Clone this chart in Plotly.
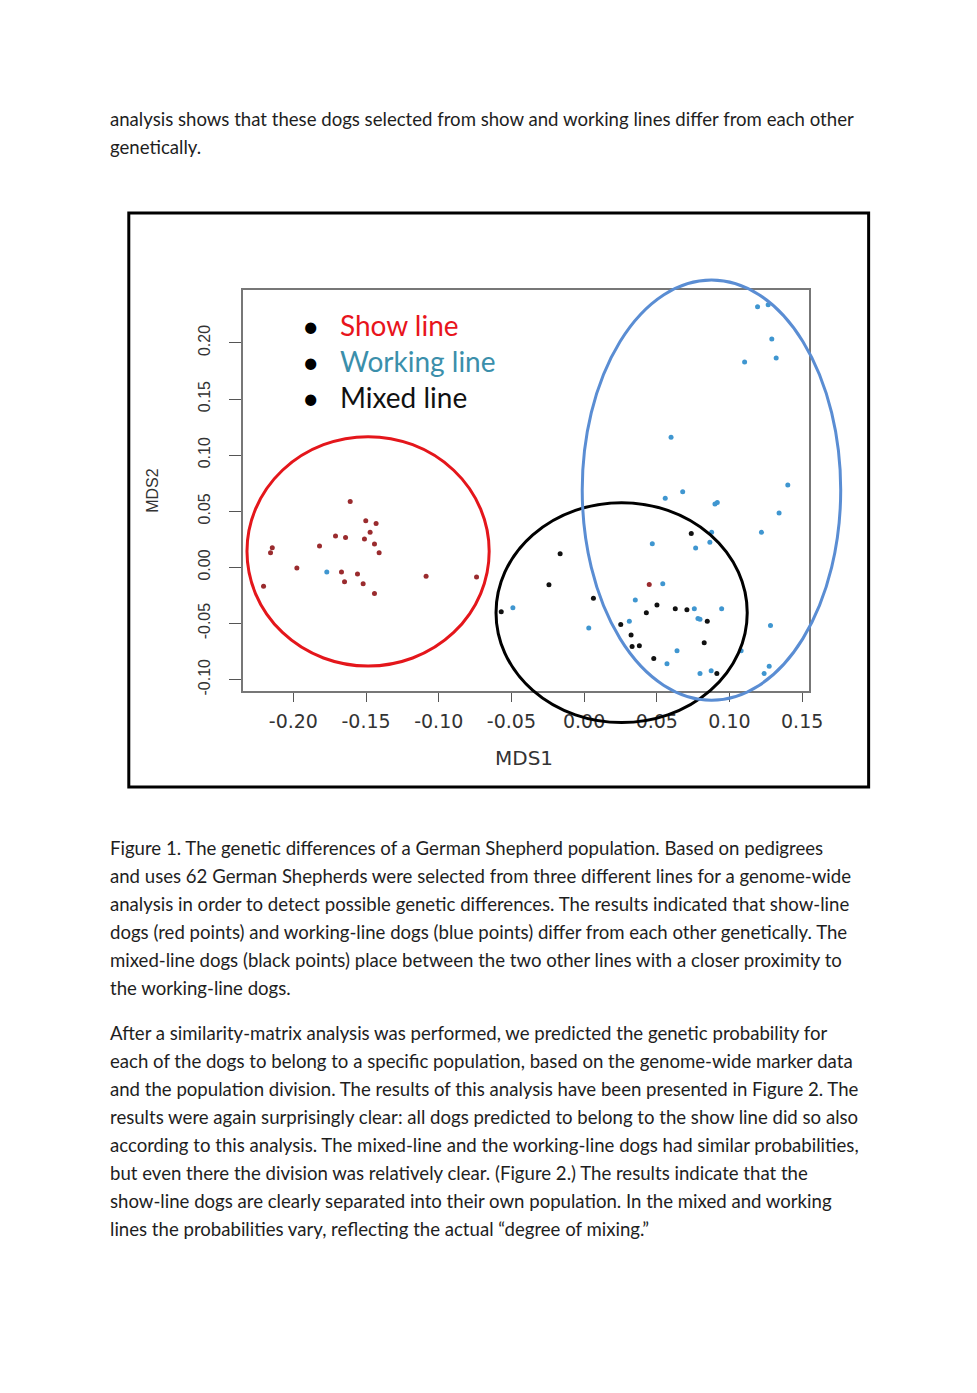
import plotly.graph_objects as go

# ---------------- data ----------------
show_x = [-0.1609, -0.1502, -0.1431, -0.1472, -0.1710, -0.1641, -0.1511, -0.1442, -0.1820,
          -0.2145, -0.2157, -0.1410, -0.1976, -0.1669, -0.1559, -0.1087, -0.0740, -0.1648,
          -0.1520, -0.2205, -0.1442, 0.0448]
show_y = [0.0588, 0.0415, 0.0392, 0.0312, 0.0279, 0.0267, 0.0252, 0.0208, 0.0190,
          0.0175, 0.0130, 0.0130, -0.0006, -0.0042, -0.0060, -0.0078, -0.0086, -0.0128,
          -0.0146, -0.0169, -0.0232, -0.0152]

work_x = [-0.1770, 0.1193, 0.1266, 0.1291, 0.1321, 0.1104, 0.0598, 0.1401, 0.0558, 0.0678,
          0.0900, 0.0916, 0.1341, 0.0877, 0.1220, 0.0865, 0.0469, 0.0767, 0.0541, 0.0352,
          -0.0490, 0.0758, 0.0946, 0.0783, 0.0797, 0.0311, 0.0032, 0.1282, 0.0639, 0.1080,
          0.0570, 0.0797, 0.0874, 0.1273, 0.1238]
work_y = [-0.0042, 0.2323, 0.2340, 0.2035, 0.1865, 0.1830, 0.1159, 0.0734, 0.0615, 0.0674,
          0.0564, 0.0579, 0.0484, 0.0312, 0.0312, 0.0225, 0.0210, 0.0172, -0.0146, -0.0291,
          -0.0360, -0.0369, -0.0369, -0.0455, -0.0463, -0.0481, -0.0541, -0.0517, -0.0743, -0.0743,
          -0.0859, -0.0945, -0.0922, -0.0880, -0.0945]

mixed_x = [0.0737, -0.0165, -0.0242, -0.0570, 0.0064, 0.0501, 0.0428, 0.0627, 0.0707,
           0.0847, 0.0252, 0.0323, 0.0330, 0.0380, 0.0826, 0.0479, 0.0913]
mixed_y = [0.0303, 0.0121, -0.0155, -0.0396, -0.0274, -0.0336, -0.0405, -0.0369, -0.0378,
           -0.0481, -0.0508, -0.0603, -0.0704, -0.0699, -0.0672, -0.0811, -0.0945]

# group ellipses: centre x, centre y, radius x, radius y
ellipse_names = ["show", "mixed", "working"]
ellipse_cx = [-0.1486, 0.0258, 0.0876]
ellipse_cy = [0.0143, -0.0403, 0.0689]
ellipse_rx = [0.0833, 0.0864, 0.0889]
ellipse_ry = [0.1022, 0.0980, 0.1872]

x_ticks = [-0.20, -0.15, -0.10, -0.05, 0.00, 0.05, 0.10, 0.15]
y_ticks = [-0.10, -0.05, 0.00, 0.05, 0.10, 0.15, 0.20]

legend_labels = ["Show line", "Working line", "Mixed line"]

para_top = [
    "analysis shows that these dogs selected from show and working lines differ from each other",
    "genetically.",
]
para_caption = [
    "Figure 1. The genetic differences of a German Shepherd population. Based on pedigrees",
    "and uses 62 German Shepherds were selected from three different lines for a genome-wide",
    "analysis in order to detect possible genetic differences. The results indicated that show-line",
    "dogs (red points) and working-line dogs (blue points) differ from each other genetically. The",
    "mixed-line dogs (black points) place between the two other lines with a closer proximity to",
    "the working-line dogs.",
]
para_second = [
    "After a similarity-matrix analysis was performed, we predicted the genetic probability for",
    "each of the dogs to belong to a specific population, based on the genome-wide marker data",
    "and the population division. The results of this analysis have been presented in Figure 2. The",
    "results were again surprisingly clear: all dogs predicted to belong to the show line did so also",
    "according to this analysis. The mixed-line and the working-line dogs had similar probabilities,",
    "but even there the division was relatively clear. (Figure 2.) The results indicate that the",
    "show-line dogs are clearly separated into their own population. In the mixed and working",
    "lines the probabilities vary, reflecting the actual \u201cdegree of mixing.\u201d",
]

# ---------------- layout geometry (page pixels) ----------------
W, H = 977, 1393
SX, SY = 1.014, 1.003   # compensation for capture scaling


def px(x):
    return x * SX / W


def py(y):
    return 1 - y * SY / H


xdom = [px(243), px(810)]
ydom = [py(691), py(290)]
xr = [-0.2349, 0.1545]
yr = [-0.1102, 0.2471]


def extend(r, d):
    s = (r[1] - r[0]) / (d[1] - d[0])
    return [r[0] - d[0] * s, r[1] + (1 - d[1]) * s]


xr2 = extend(xr, xdom)
yr2 = extend(yr, ydom)

TXT = "Lato"
AX = "Liberation Sans, Arial, sans-serif"
AXW = "DejaVu Sans, sans-serif"

fig = go.Figure()
fig.add_trace(go.Scatter(x=show_x, y=show_y, mode="markers",
                         marker=dict(color="#9a2b2e", size=5), hoverinfo="skip"))
fig.add_trace(go.Scatter(x=work_x, y=work_y, mode="markers",
                         marker=dict(color="#3f96d0", size=5), hoverinfo="skip"))
fig.add_trace(go.Scatter(x=mixed_x, y=mixed_y, mode="markers",
                         marker=dict(color="#111111", size=5), hoverinfo="skip"))
fig.add_trace(go.Scatter(x=[None], y=[None], xaxis="x2", yaxis="y2", mode="markers",
                         hoverinfo="skip"))

ell_colors = ["#e4161b", "#000000", "#5a8dd3"]
for cx, cy, rx, ry, c in zip(ellipse_cx, ellipse_cy, ellipse_rx, ellipse_ry, ell_colors):
    fig.add_shape(type="circle", xref="x2", yref="y2", x0=cx - rx, x1=cx + rx,
                  y0=cy - ry, y1=cy + ry, line=dict(color=c, width=3), layer="above")

# outer frame
fig.add_shape(type="rect", xref="paper", yref="paper", x0=px(129), x1=px(870),
              y0=py(787), y1=py(213), line=dict(color="#000", width=3))

ann = []
leg_colors = ["#e8141c", "#3b8fab", "#111111"]
leg_y = [325, 361, 397]
for lab, c, yy in zip(legend_labels, leg_colors, leg_y):
    ann.append(dict(x=px(311), y=py(yy), xref="paper", yref="paper", text="\u2022",
                    showarrow=False, xanchor="center", yanchor="middle",
                    font=dict(family=TXT, size=30, color="#000")))
    ann.append(dict(x=px(339), y=py(yy), xref="paper", yref="paper", text=lab,
                    showarrow=False, xanchor="left", yanchor="middle",
                    font=dict(family=TXT, size=28, color=c)))

ann.append(dict(x=px(525), y=py(758), xref="paper", yref="paper", text="MDS1",
                showarrow=False, xanchor="center", yanchor="middle",
                font=dict(family=AXW, size=20, color="#333")))
ann.append(dict(x=px(152), y=py(490), xref="paper", yref="paper", text="MDS2",
                showarrow=False, xanchor="center", yanchor="middle", textangle=-90,
                font=dict(family=AX, size=16, color="#333")))


def add_par(lines, y0, step=28.05):
    for i, t in enumerate(lines):
        ann.append(dict(x=px(108), y=py(y0 + i * step), xref="paper", yref="paper",
                        text=t, showarrow=False, xanchor="left", yanchor="middle",
                        font=dict(family=TXT, size=18.6, color="#1e1e1e")))


add_par(para_top, 119)
add_par(para_caption, 848)
add_par(para_second, 1033)

fig.update_layout(
    width=W, height=H, margin=dict(l=0, r=0, t=0, b=0),
    paper_bgcolor="white", plot_bgcolor="rgba(0,0,0,0)", showlegend=False,
    annotations=ann,
    xaxis=dict(domain=xdom, range=xr, anchor="y", tickvals=x_ticks,
               ticktext=[f"{v:.2f}" for v in x_ticks], ticks="outside", ticklen=9,
               tickcolor="#555", tickwidth=1.3, showline=True, linecolor="#777",
               linewidth=1.5, mirror=True, showgrid=False, zeroline=False,
               tickfont=dict(family=AXW, size=19, color="#333"), ticklabelstandoff=3),
    yaxis=dict(domain=ydom, range=yr, anchor="x", tickvals=y_ticks,
               ticktext=[f"{v:.2f}" for v in y_ticks], ticks="outside", ticklen=12,
               tickcolor="#555", tickwidth=1.3, showline=True, linecolor="#777",
               linewidth=1.5, mirror=True, showgrid=False, zeroline=False, tickangle=-90,
               tickfont=dict(family=AX, size=16, color="#333"), ticklabelstandoff=12),
    xaxis2=dict(domain=[0, 1], range=xr2, anchor="y2", visible=False, fixedrange=True),
    yaxis2=dict(domain=[0, 1], range=yr2, anchor="x2", visible=False, fixedrange=True),
)

fig.write_html(
    "out.html",
    config={"displayModeBar": False},
    post_script="document.body.style.margin='0px';"
                "document.documentElement.style.overflow='hidden';"
                "document.body.style.overflow='hidden';",
)
